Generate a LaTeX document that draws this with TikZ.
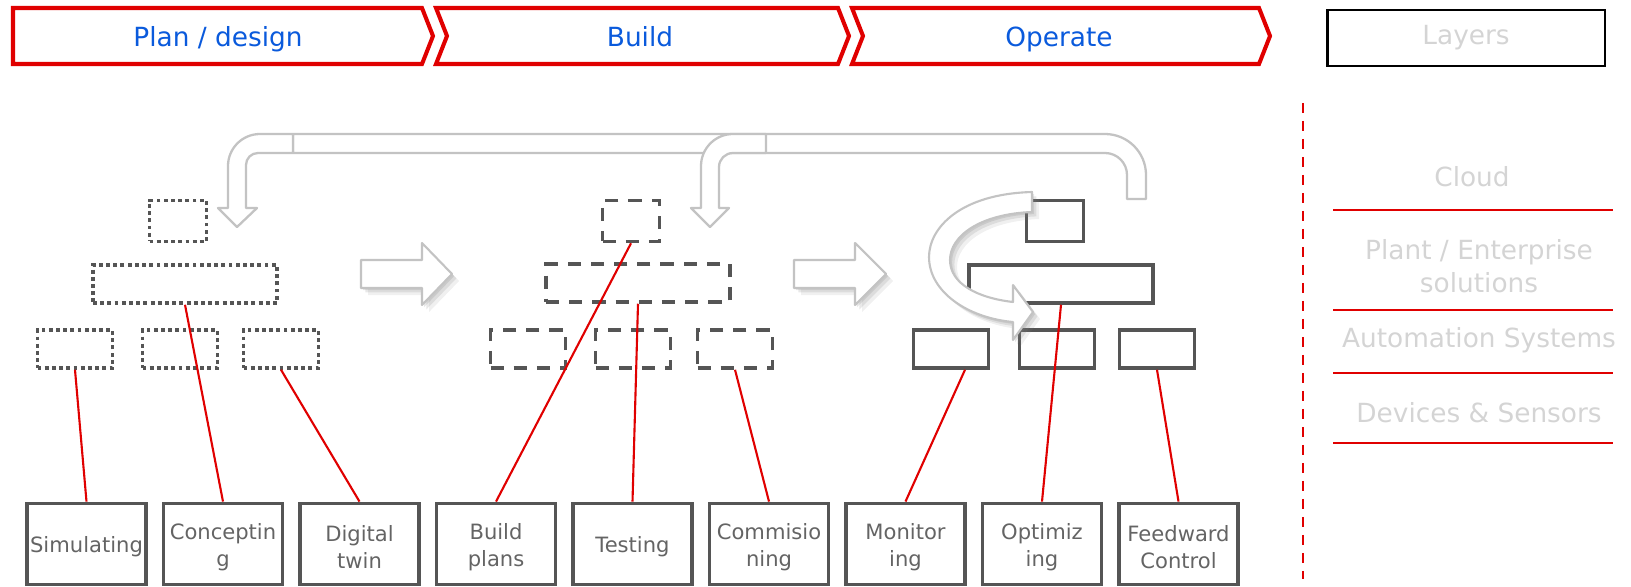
\documentclass[tikz,border=0pt]{standalone}
\usepackage{fontspec}
\setmainfont{DejaVu Sans}
\usetikzlibrary{calc,positioning,shadows}
\definecolor{hdrred}{RGB}{224,0,0}
\definecolor{hdrblue}{RGB}{10,90,220}
\definecolor{treegray}{RGB}{85,85,85}
\definecolor{boxtext}{RGB}{100,100,100}
\definecolor{layergray}{RGB}{212,212,212}
\definecolor{pipegray}{RGB}{195,195,195}

\begin{document}
\begin{tikzpicture}[
    x=0.02cm, y=-0.02cm,
    every node/.style={font=\fontsize{12}{15.3}\selectfont},
    hdr/.style={text=hdrblue,font=\fontsize{15}{18}\selectfont,anchor=base},
    chev/.style={draw=hdrred,line width=2.3pt,line join=miter},
    tbox/.style={draw=treegray,line width=2pt,minimum width=1.5cm,minimum height=0.76cm,inner sep=0pt},
    ttop/.style={tbox,minimum width=1.14cm,minimum height=0.82cm},
    tmid/.style={tbox,minimum width=3.68cm},
    dots/.style={dash pattern=on 2.2pt off 1.9pt},
    dashes/.style={dash pattern=on 7.5pt off 5.7pt},
    task/.style={draw=treegray,line width=2.2pt,minimum width=2.38cm,minimum height=1.62cm,align=center,text=boxtext,inner sep=0pt},
    tasktext/.style={text=boxtext,align=center},
    link/.style={draw=hdrred,line width=1.2pt},
    pipe/.style={draw=pipegray,fill=white,line width=1.3pt,line join=round},
    blockarrow/.style={draw=pipegray,fill=white,line width=1.2pt,line join=round,
      drop shadow={opacity=0.12,shadow xshift=4pt,shadow yshift=-4pt},
      drop shadow={opacity=0.18,shadow xshift=2.5pt,shadow yshift=-2.5pt},
      drop shadow={opacity=0.2,shadow xshift=1.2pt,shadow yshift=-1.2pt}},
    layer/.style={text=layergray,font=\fontsize{15}{19}\selectfont,align=center},
    sep/.style={draw=hdrred,line width=1.2pt}
  ]
    \useasboundingbox (0,0) rectangle (1631,587);

    % Phase headers
    \draw[chev] (13,8) -- (422,8) -- (433,36) -- (422,64) -- (13,64) -- cycle;
    \draw[chev] (436,8) -- (838,8) -- (849,36) -- (838,64) -- (436,64) -- (447,36) -- cycle;
    \draw[chev] (852,8) -- (1259,8) -- (1270,36) -- (1259,64) -- (852,64) -- (863,36) -- cycle;
    \node[hdr] (plan) at (218,47) {Plan / design};
    \node[hdr] (build) at (640,47) {Build};
    \node[hdr] (operate) at (1059,47) {Operate};
    \node[draw=black,line width=1.4pt,minimum width=5.55cm,minimum height=1.12cm,
      text=layergray,font=\fontsize{15}{18}\selectfont] (layers) at (1466,38) {Layers};

    % Feedback pipes
    \draw[pipe] (293,134) -- (1105,134) arc[start angle=270,end angle=360,radius=41]
      -- (1146,199) -- (1127,199) -- (1127,175) arc[start angle=0,end angle=-90,radius=22]
      -- (293,153) -- cycle;
    \draw[pipe] (766,134) -- (733,134) arc[start angle=270,end angle=180,radius=32]
      -- (701,208) -- (691,208) -- (710,227) -- (729,208) -- (719,208)
      -- (719,167) arc[start angle=180,end angle=270,radius=14] -- (766,153) -- cycle;
    \draw[pipe] (293,134) -- (260,134) arc[start angle=270,end angle=180,radius=32]
      -- (228,208) -- (218,208) -- (237,227) -- (257,208) -- (246,208)
      -- (246,165) arc[start angle=180,end angle=270,radius=12] -- (293,153) -- cycle;

    % Plan tree
    \node[ttop,dots] (pt) at (178,221) {};
    \node[tmid,dots] (pm) at (185,284) {};
    \node[tbox,dots] (pb1) at (75,349) {};
    \node[tbox,dots] (pb2) at (180,349) {};
    \node[tbox,dots] (pb3) at (281,349) {};

    % Build tree
    \node[ttop,dashes] (bt) at (631,221) {};
    \node[tmid,dashes] (bm) at (638,283) {};
    \node[tbox,dashes] (bb1) at (528,349) {};
    \node[tbox,dashes] (bb2) at (633,349) {};
    \node[tbox,dashes] (bb3) at (735,349) {};

    % Operate tree
    \node[ttop] (ot) at (1055,221) {};
    \node[tmid] (om) at (1061,284) {};
    \node[tbox] (ob1) at (951,349) {};
    \node[tbox] (ob2) at (1057,349) {};
    \node[tbox] (ob3) at (1157,349) {};

    % Block arrows
    \draw[blockarrow] (361,260) -- (422,260) -- (422,243) -- (452,274) -- (422,305) -- (422,288) -- (361,288) -- cycle;
    \draw[blockarrow] (794,260) -- (855,260) -- (855,243) -- (886,274) -- (855,305) -- (855,288) -- (794,288) -- cycle;
    \draw[blockarrow] (1032,192) .. controls (960,194) and (929,228) .. (929,257)
      .. controls (929,292) and (968,318) .. (1013,322) -- (1013,340) -- (1033,312)
      -- (1013,285) -- (1013,302) .. controls (978,298) and (950,284) .. (950,260)
      .. controls (950,236) and (980,214) .. (1032,212) -- cycle;

    % Tasks
    \node[task] (t1) at (86.5,544) {};
    \node[task] (t2) at (223,544) {};
    \node[task] (t3) at (359.5,544) {};
    \node[task] (t4) at (496,544) {};
    \node[task] (t5) at (632.5,544) {};
    \node[task] (t6) at (769,544) {};
    \node[task] (t7) at (905.5,544) {};
    \node[task] (t8) at (1042,544) {};
    \node[task] (t9) at (1178.5,544) {};
    \node[tasktext] (l1) at ($(t1)+(0,3)$) {Simulating};
    \node[tasktext] (l2) at ($(t2)+(0,3)$) {Conceptin\\g};
    \node[tasktext] (l3) at ($(t3)+(0,3)$) {Digital\\twin};
    \node[tasktext] (l4) at ($(t4)+(0,3)$) {Build\\plans};
    \node[tasktext] (l5) at ($(t5)+(0,3)$) {Testing};
    \node[tasktext] (l6) at ($(t6)+(0,3)$) {Commisio\\ning};
    \node[tasktext] (l7) at ($(t7)+(0,3)$) {Monitor\\ing};
    \node[tasktext] (l8) at ($(t8)+(0,3)$) {Optimiz\\ing};
    \node[tasktext] (l9) at ($(t9)+(0,3)$) {Feedward\\Control};

    % Links
    \draw[link] (t1.north) -- (pb1.south);
    \draw[link] (t2.north) -- (pm.south);
    \draw[link] (t3.north) -- (pb3.south);
    \draw[link] (t4.north) -- (bt.south);
    \draw[link] (t5.north) -- (bm.south);
    \draw[link] (t6.north) -- (bb3.south);
    \draw[link] (t7.north) -- ($(ob1.south)+(14,0)$);
    \draw[link] (t8.north) -- (om.south);
    \draw[link] (t9.north) -- (ob3.south);

    % Layers
    \draw[hdrred,line width=1.4pt,dash pattern=on 0.2cm off 0.16cm] (1303,103) -- (1303,579);
    \node[layer] (cloud) at (1472,177) {Cloud};
    \node[layer] (plant) at (1479,266) {Plant / Enterprise\\solutions};
    \node[layer] (autom) at (1479,340) {Automation Systems};
    \node[layer] (devices) at (1479,413) {Devices \& Sensors};
    \draw[sep] (1333,210) -- (1613,210);
    \draw[sep] (1333,310) -- (1613,310);
    \draw[sep] (1333,373) -- (1613,373);
    \draw[sep] (1333,443) -- (1613,443);
  \end{tikzpicture}
\end{document}
